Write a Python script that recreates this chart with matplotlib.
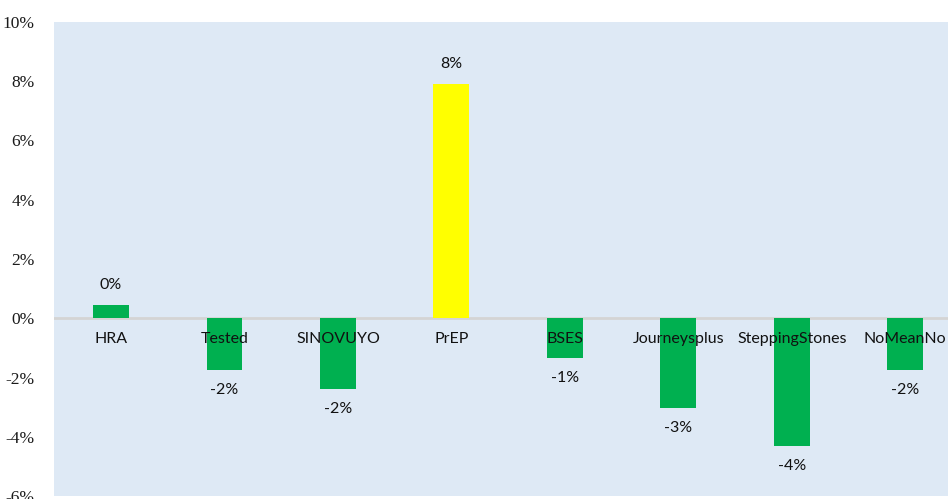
import matplotlib
matplotlib.use("Agg")
import matplotlib.pyplot as plt
from matplotlib.ticker import FuncFormatter

plt.rcParams["font.family"] = ["Liberation Serif", "DejaVu Serif"]

categories = ["HRA", "Tested", "SINOVUYO", "PrEP", "BSES", "Journeysplus", "SteppingStones", "NoMeanNo"]
values = [0.44, -1.76, -2.4, 7.92, -1.35, -3.03, -4.3, -1.76]
value_labels = ["0%", "-2%", "-2%", "8%", "-1%", "-3%", "-4%", "-2%"]
colors = ["#00B050", "#00B050", "#00B050", "#FFFF00", "#00B050", "#00B050", "#00B050", "#00B050"]
yticks = [-6, -4, -2, 0, 2, 4, 6, 8, 10]

W, H = 948, 499
fig = plt.figure(figsize=(W / 100, H / 100), dpi=100)
ax = fig.add_axes([54.3 / W, 3 / H, (W - 54.3) / W, 474 / H])
ax.set_facecolor("#DEE9F5")

x = list(range(len(categories)))
ax.bar(x, values, width=0.317, color=colors, edgecolor="none", zorder=2)
ax.axhline(0, color="#D4D4D4", lw=2, zorder=1)

ax.set_ylim(-6, 10)
ax.set_xlim(-0.5, 7.5 - 14 / 113.5)
ax.set_yticks(yticks)
ax.yaxis.set_major_formatter(FuncFormatter(lambda v, p: f"{v:.0f}%"))
ax.tick_params(axis="y", length=0, pad=14, labelsize=12.5, labelcolor="#1a1a1a")
ax.tick_params(axis="x", length=0)
ax.set_xticks([])
for s in ax.spines.values():
    s.set_visible(False)

for xi, v, lab, cat in zip(x, values, value_labels, categories):
    off = 20 if v >= 0 else -20
    ax.annotate(lab, (xi, v), xytext=(0, off), textcoords="offset pixels",
                ha="center", va="center", fontsize=11.5, family="Lato", color="#111111", zorder=3)
    ax.annotate(cat, (xi, 0), xytext=(0, -21), textcoords="offset pixels",
                ha="center", va="center", fontsize=11.5, family="Lato", color="#111111", zorder=3)

fig.savefig("out.png", dpi=100)
